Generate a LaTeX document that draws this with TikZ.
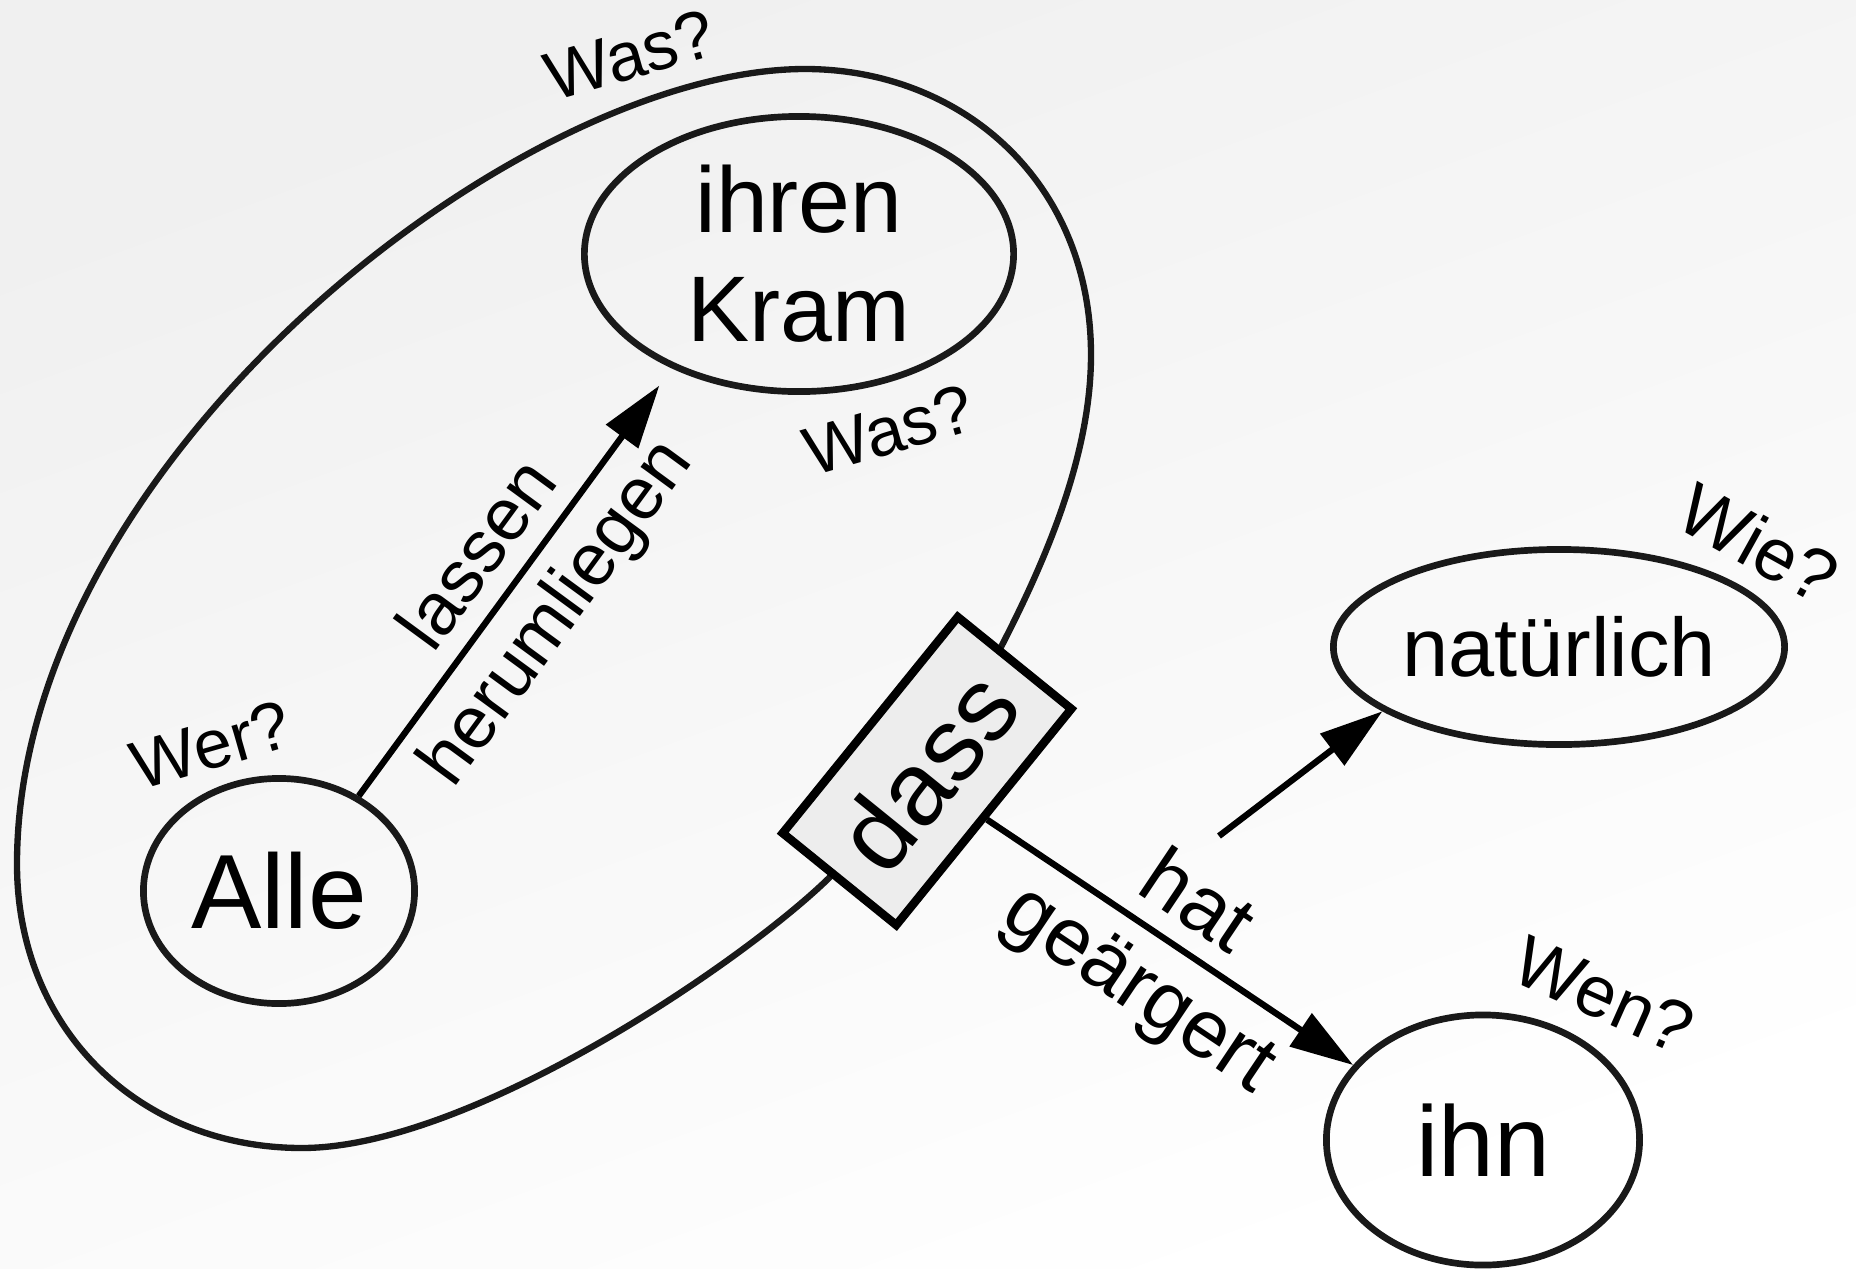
\documentclass[tikz,border=0pt]{standalone}
\usepackage{fontspec}
\setmainfont{Liberation Sans}
\usetikzlibrary{shapes.geometric,arrows.meta}

\begin{document}
\begin{tikzpicture}[x=0.01cm,y=-0.01cm,
    wort/.style={ellipse,draw=black!90,line width=1.9pt,inner sep=0pt},
    frage/.style={font=\fontsize{19.5}{23}\selectfont,inner sep=0pt},
    pfeil/.style={line width=1.8pt,-{Triangle[length=18pt,width=11pt]}},
    rolle/.style={sloped,midway,inner sep=1pt,font=\fontsize{21}{25}\selectfont}]
    % Background
    \useasboundingbox (0,0) rectangle (1856,1269);
    \shade[top color=black!6,bottom color=white,shading angle=20] (0,0) rectangle (1856,1269);

    % Loop round the dass clause
    \draw[line width=1.8pt,black!90,line join=round] (1000,649)
      .. controls (1046,560) and (1091,455) .. (1091,355)
      .. controls (1091,180) and (960,69) .. (805,69)
      .. controls (520,69) and (17,460) .. (17,864)
      .. controls (17,1030) and (140,1148) .. (302,1148)
      .. controls (470,1148) and (743,962) .. (829,878) -- cycle;

    % Conjunction
    \node[draw,line width=2.4pt,fill=black!7,rotate=51,minimum width=2.78cm,
      minimum height=1.46cm,font=\fontsize{29.5}{33}\selectfont] (dass) at (927,771) {dass};

    % Words
    \node[wort,minimum width=4.29cm,minimum height=2.75cm,align=center,
      font=\fontsize{26.5}{31}\selectfont] (kram) at (799,254) {ihren\\Kram};
    \node[wort,minimum width=2.71cm,minimum height=2.25cm,
      font=\fontsize{30}{34}\selectfont] (alle) at (279,891) {Alle};
    \node[wort,minimum width=4.51cm,minimum height=1.95cm,
      font=\fontsize{23.6}{28}\selectfont] (natur) at (1559,647) {natürlich};
    \node[wort,minimum width=3.13cm,minimum height=2.5cm,
      font=\fontsize{28.5}{32}\selectfont] (ihn) at (1483,1140) {ihn};

    % Verbs
    \draw[pfeil,shorten >=6pt] (alle.50) -- (kram.222)
      node[rolle,above=4.5pt] {lassen}
      node[rolle,below=3.6pt] {herumliegen};
    \draw[pfeil] (dass.south) -- (ihn.150)
      node[rolle,above=4.3pt,font=\fontsize{23.5}{27}\selectfont] {hat}
      node[rolle,below=4.6pt,font=\fontsize{23.5}{27}\selectfont] {geärgert};
    \coordinate (wie) at (1219,836);
    \draw[pfeil] (wie) -- (natur.200);

    % Questions
    \node[frage,rotate=16] (wasoben) at (630,55) {Was?};
    \node[frage,rotate=16] (wasunten) at (889,430) {Was?};
    \node[frage,rotate=16] (wer) at (211,745) {Wer?};
    \node[frage,rotate=-29,font=\fontsize{21}{25}\selectfont] (wiefrage) at (1759,543) {Wie?};
    \node[frage,rotate=-24,font=\fontsize{20.5}{24}\selectfont] (wen) at (1604,995) {Wen?};
  \end{tikzpicture}
\end{document}
